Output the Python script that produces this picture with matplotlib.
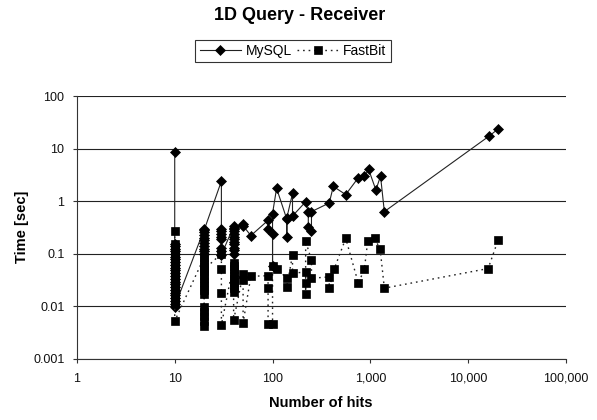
import matplotlib
matplotlib.use("Agg")
import matplotlib.pyplot as plt
from matplotlib.ticker import FixedLocator, FixedFormatter, NullLocator

plt.rcParams['font.family'] = ['Liberation Sans', 'DejaVu Sans']

title = "1D Query - Receiver"
xlabel = "Number of hits"
ylabel = "Time [sec]"
series_names = ["MySQL", "FastBit"]

x_ticks = [1, 10, 100, 1000, 10000, 100000]
x_tick_labels = ["1", "10", "100", "1,000", "10,000", "100,000"]
y_ticks = [0.001, 0.01, 0.1, 1, 10, 100]
y_tick_labels = ["0.001", "0.01", "0.1", "1", "10", "100"]

mysql_hits = [10] * 25 + [20] * 11 + [30] * 9 + [40] * 12 + [50, 50, 60, 90, 90, 100, 100, 100, 110,
              140, 140, 140, 160, 160, 218, 232, 232, 250, 250, 380, 418, 560, 755, 870, 960,
              1140, 1270, 1390, 16400, 20200]
mysql_time = [8.7, 0.155, 0.14, 0.125, 0.11, 0.098, 0.088, 0.078, 0.069, 0.061, 0.054, 0.048, 0.042,
              0.037, 0.033, 0.029, 0.026, 0.023, 0.02, 0.018, 0.016, 0.014, 0.0125, 0.011, 0.0098,
              0.29, 0.26, 0.23, 0.2, 0.18, 0.16, 0.14, 0.125, 0.11, 0.1, 0.28,
              2.4, 0.3, 0.27, 0.24, 0.21, 0.19, 0.13, 0.11, 0.095,
              0.33, 0.3, 0.27, 0.24, 0.21, 0.19, 0.17, 0.15, 0.13, 0.115, 0.1, 0.31,
              0.37, 0.34, 0.22, 0.43, 0.3, 0.24, 0.058, 0.58, 1.75,
              0.45, 0.21, 0.48, 1.4, 0.52, 0.97, 0.63, 0.32, 0.27, 0.63, 0.92, 1.9, 1.33, 2.8, 2.95, 4.0,
              1.62, 3.0, 0.63, 17.3, 23.5]

fastbit_hits = [10] * 21 + [20] * 17 + [30] * 4 + [40] * 11 + [50, 50, 50, 60, 90, 90, 90, 100, 100, 110,
                140, 140, 160, 160, 218, 218, 218, 218, 250, 250, 380, 380, 425, 560, 755, 870, 940,
                1110, 1260, 1390, 16000, 20200]
fastbit_time = [0.27, 0.155, 0.135, 0.12, 0.105, 0.092, 0.08, 0.07, 0.061, 0.053, 0.046, 0.04, 0.035,
                0.03, 0.026, 0.022, 0.019, 0.016, 0.014, 0.012, 0.0052,
                0.085, 0.074, 0.064, 0.055, 0.047, 0.04, 0.034, 0.029, 0.024, 0.02, 0.017, 0.0095,
                0.0078, 0.0064, 0.0052, 0.0042, 0.05,
                0.1, 0.05, 0.018, 0.0044,
                0.065, 0.057, 0.05, 0.044, 0.038, 0.033, 0.029, 0.025, 0.022, 0.019, 0.0054,
                0.041, 0.031, 0.0048, 0.037, 0.038, 0.022, 0.0046, 0.0046, 0.057, 0.052,
                0.034, 0.023, 0.095, 0.042, 0.045, 0.028, 0.017, 0.173, 0.075, 0.034, 0.036, 0.022,
                0.05, 0.195, 0.027, 0.052, 0.173, 0.195, 0.12, 0.022, 0.052, 0.18]

fig = plt.figure(figsize=(5.97, 4.20), dpi=100)
ax = fig.add_axes([76.9 / 597, 1 - 358.7 / 420, (566 - 76.9) / 597, (358.7 - 96) / 420])

ax.plot(mysql_hits, mysql_time, color='#222222', lw=0.8, marker='D', ms=4.6,
        mfc='black', mec='black', mew=0.5, label=series_names[0], zorder=3)
ax.plot(fastbit_hits, fastbit_time, color='#222222', lw=1.0, ls=(0, (1.2, 2.8)), marker='s', ms=5.8,
        mfc='black', mec='black', mew=0.5, label=series_names[1], zorder=4)

ax.set_xscale('log')
ax.set_yscale('log')
ax.set_xlim(x_ticks[0], x_ticks[-1])
ax.set_ylim(y_ticks[0], y_ticks[-1])

ax.xaxis.set_major_locator(FixedLocator(x_ticks))
ax.xaxis.set_major_formatter(FixedFormatter(x_tick_labels))
ax.xaxis.set_minor_locator(NullLocator())
ax.yaxis.set_major_locator(FixedLocator(y_ticks))
ax.yaxis.set_major_formatter(FixedFormatter(y_tick_labels))
ax.yaxis.set_minor_locator(NullLocator())

ax.tick_params(axis='x', direction='out', length=3, width=0.8, color='#333333', pad=7,
               labelsize=9, labelcolor='#111111')
ax.tick_params(axis='y', direction='out', length=3, width=0.8, color='#333333', pad=6,
               labelsize=9, labelcolor='#111111')

ax.grid(axis='y', which='major', color='#222222', lw=0.8)
ax.set_axisbelow(True)
for s in ['top', 'right']:
    ax.spines[s].set_visible(False)
for s in ['left', 'bottom']:
    ax.spines[s].set_color('#333333')
    ax.spines[s].set_linewidth(0.8)

fig.text(300 / 597, 1 - 16 / 420, title, ha='center', va='center', fontsize=13, fontweight='bold')
fig.text(321 / 597, 1 - 403 / 420, xlabel, ha='center', va='center', fontsize=10.5, fontweight='bold')
fig.text(22 / 597, 1 - 227 / 420, ylabel, ha='center', va='center', fontsize=10.5, fontweight='bold',
         rotation=90)

leg = fig.legend(loc='center', bbox_to_anchor=(293 / 597, 1 - 51.3 / 420), ncol=2, fontsize=10,
                 frameon=True, fancybox=False, edgecolor='black', handlelength=3.0,
                 handletextpad=0.3, columnspacing=0.4, borderpad=0.3, borderaxespad=0)
leg.get_frame().set_linewidth(0.8)

fig.savefig('out.png', dpi=100)
